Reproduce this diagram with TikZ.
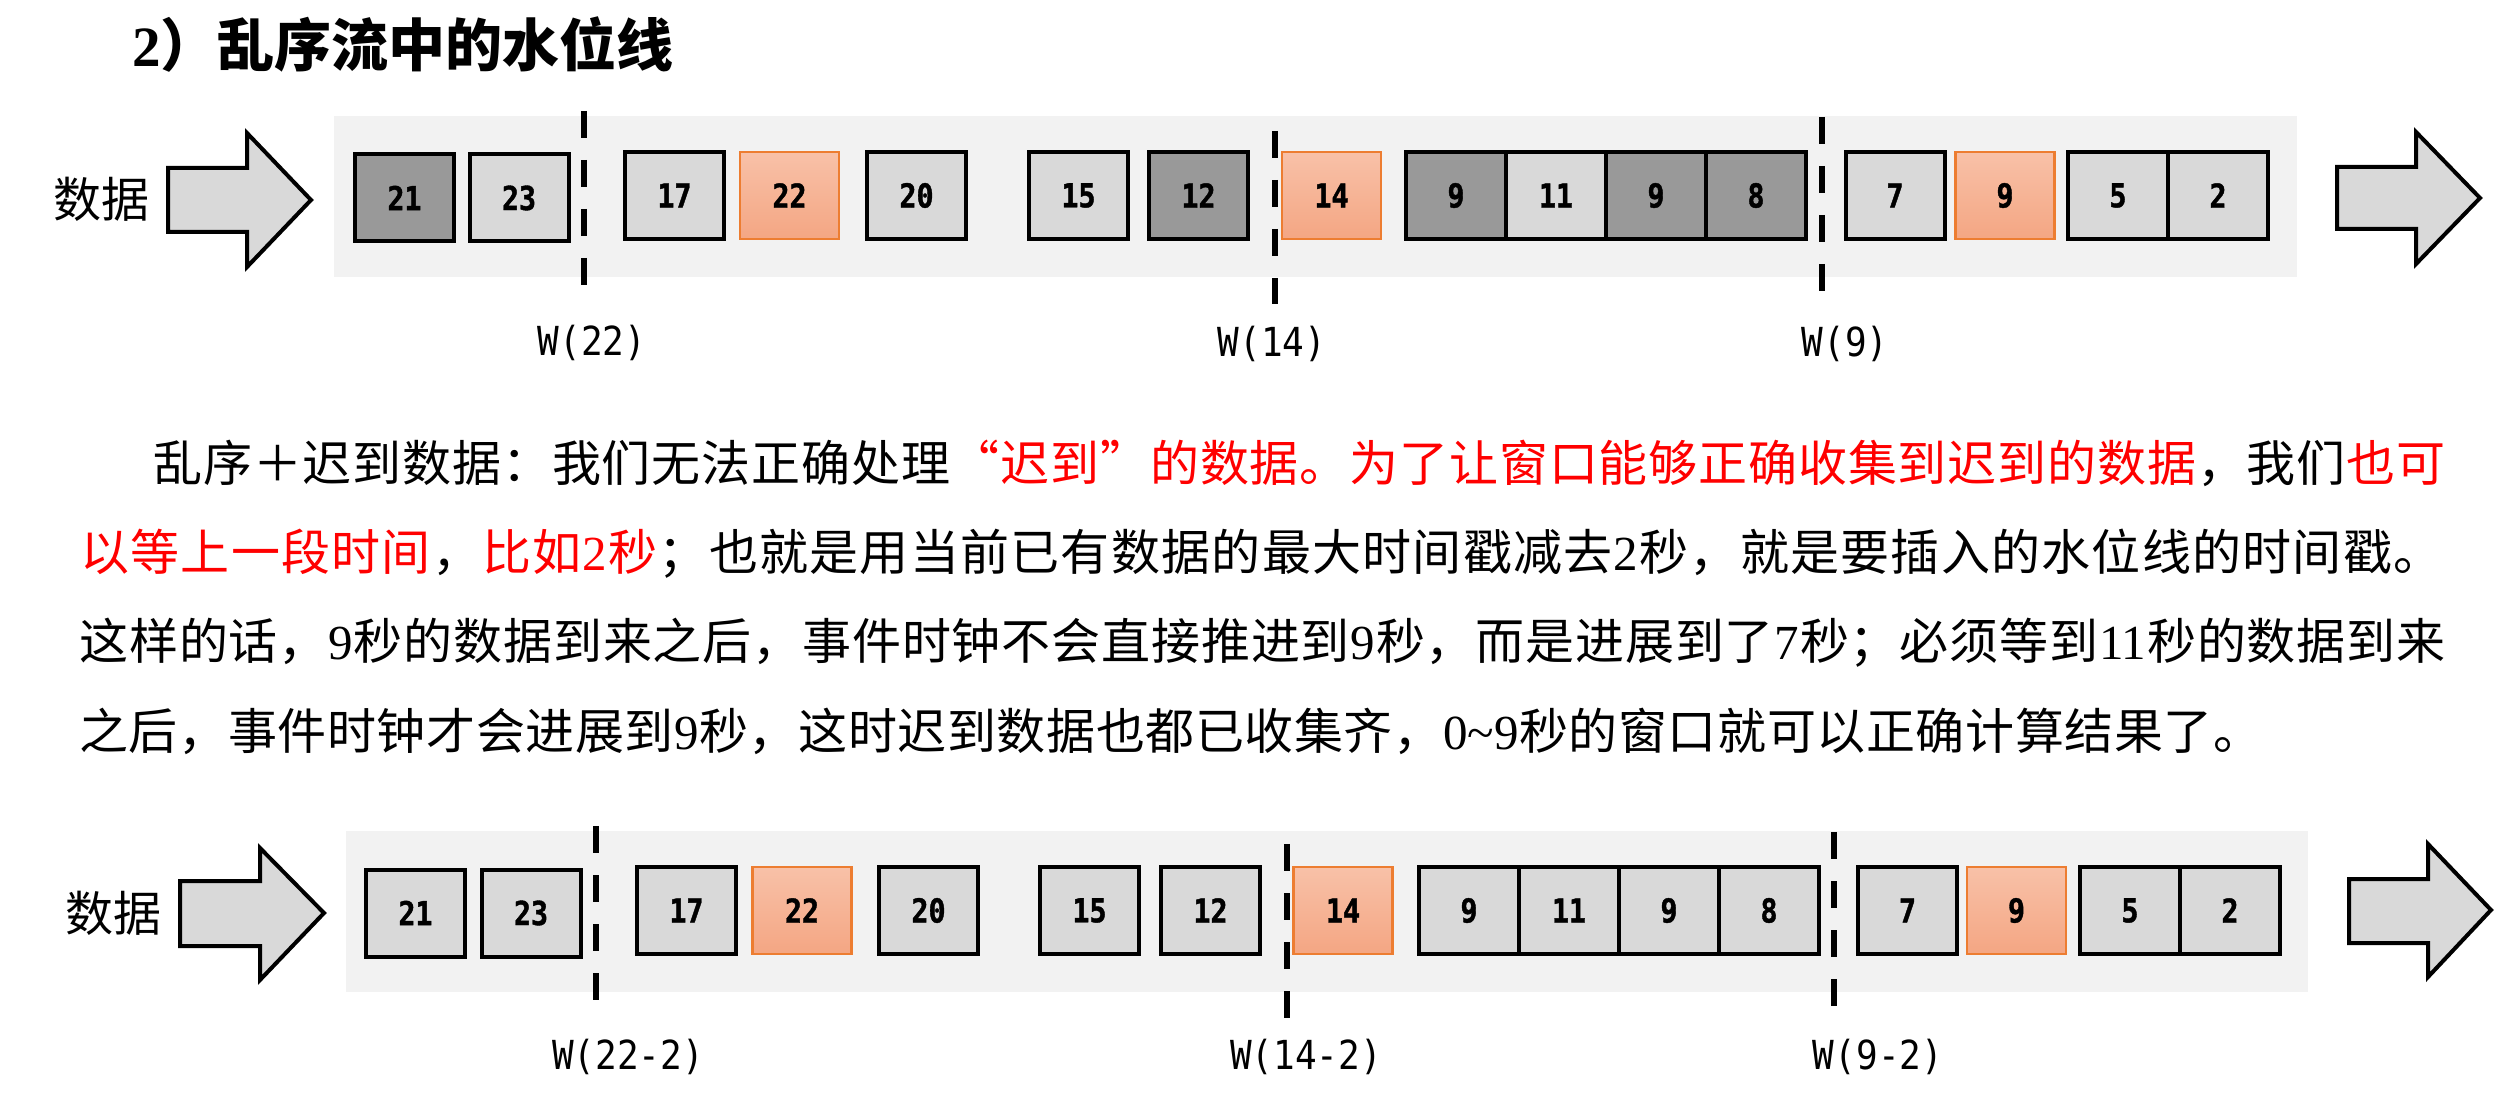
\documentclass[tikz,border=0pt]{standalone}
\usepackage{fontspec}
\setmainfont{Liberation Serif}
\newfontfamily\cjk{Noto Sans CJK SC}
\newfontfamily\tnr{Liberation Serif}
\newfontfamily\mono{DejaVu Sans Mono}[FakeStretch=0.9]
\newfontfamily\monob{DejaVu Sans Mono Bold}[FakeStretch=0.86, FakeBold=1.2]
\newlength\pxu
\setlength\pxu{0.5pt}
\definecolor{cellgray}{HTML}{D9D9D9}
\definecolor{darkcell}{HTML}{999999}
\definecolor{bandgray}{HTML}{F2F2F2}
\definecolor{orangetop}{HTML}{F8C1A8}
\definecolor{orangebot}{HTML}{F4A683}
\definecolor{orangeline}{HTML}{ED7D31}
\definecolor{redtext}{HTML}{FF0000}
% spread characters of a segment with \hfil between them
\def\jspread#1{\jspreadA#1\relax}
\def\jspreadA#1#2{#1\ifx\relax#2\else\hfil\expandafter\jspreadA\expandafter#2\fi}
\tikzset{
  band/.style={fill=bandgray, draw=none},
  cell/.style={draw=black, line width=2pt, minimum width=49.5pt, minimum height=43.5pt,
    inner sep=0pt, fill=cellgray, font=\monob\fontsize{16.5pt}{20pt}\selectfont},
  dcell/.style={cell, fill=darkcell},
  gw/.style={minimum width=50pt},
  ocell/.style={cell, draw=orangeline, line width=1.25pt, top color=orangetop, bottom color=orangebot},
  wm/.style={line width=3pt, dash pattern=on 13.5pt off 11pt},
  wlabel/.style={font=\mono\fontsize{20pt}{24pt}\selectfont, inner sep=0pt},
  blk/.style={draw=black, line width=2pt, fill=cellgray, line join=miter},
  datalabel/.style={font=\cjk\fontsize{24pt}{28pt}\selectfont, inner sep=0pt, anchor=base},
  para/.style={font=\cjk\fontsize{24.5pt}{29pt}\selectfont, inner sep=0pt, anchor=base west},
  titlestyle/.style={font=\cjk\bfseries\fontsize{28.5pt}{34pt}\selectfont, inner sep=0pt, anchor=base west}
}
\begin{document}
\begin{tikzpicture}[x=0.5pt, y=-0.5pt]
\useasboundingbox (0,0) rectangle (2513,1106);

% title
\node[titlestyle] (title) at (132,67) {{\tnr\bfseries 2}）乱序流中的水位线};

% ---------- top stream ----------
\fill[band] (334,116) rectangle (2297,277);
\node[datalabel] (data1) at (102,218) {数据};
\draw[blk] (168,168) -- (247,168) -- (247,133) -- (311,200) -- (247,267) -- (247,232) -- (168,232) -- cycle;
\draw[blk] (2337,167) -- (2416,167) -- (2416,132) -- (2480,198) -- (2416,264) -- (2416,229) -- (2337,229) -- cycle;

\node[dcell] (t21) at (404.5,198) {21};
\node[cell] (t23) at (519,198) {23};
\node[cell] (t17) at (674.5,195.5) {17};
\node[ocell] (t22) at (789.5,195.5) {22};
\node[cell] (t20) at (916.5,195.5) {20};
\node[cell] (t15) at (1078.5,195.5) {15};
\node[dcell] (t12) at (1198.5,195.5) {12};
\node[ocell] (t14) at (1331.5,195.5) {14};
\node[dcell,gw] (t9a) at (1456,195.5) {9};
\node[cell,gw] (t11) at (1556,195.5) {11};
\node[dcell,gw] (t9b) at (1656,195.5) {9};
\node[dcell,gw] (t8) at (1756,195.5) {8};
\node[cell] (t7) at (1895,195.5) {7};
\node[ocell] (t9c) at (2005,195.5) {9};
\node[cell,gw] (t5) at (2118,195.5) {5};
\node[cell,gw] (t2) at (2218,195.5) {2};

\coordinate (ta1) at (584,111);  \coordinate (tb1) at (584,285);
\coordinate (ta2) at (1275,131); \coordinate (tb2) at (1275,304);
\coordinate (ta3) at (1822,117); \coordinate (tb3) at (1822,291);
\draw[wm] (ta1) -- (tb1);
\draw[wm] (ta2) -- (tb2);
\draw[wm] (ta3) -- (tb3);
\node[wlabel] (tw1) at (592,343) {W(22)};
\node[wlabel] (tw2) at (1272,344) {W(14)};
\node[wlabel] (tw3) at (1845,344) {W(9)};

% ---------- paragraph ----------
\node[para] (line1) at (153,482) {\hbox to 2292\pxu{\jspread{乱序＋迟到数据：我们无法正确处理}\hfil{\color{redtext}\jspread{“迟到”的数据。为了让窗口能够正确收集到迟到的数据}}\hfil\jspread{，我们}\hfil{\color{redtext}\jspread{也可}}}};
\node[para] (line2) at (80,571) {\hbox to 2362\pxu{{\color{redtext}\jspread{以等上一段时间}}\hfil\jspread{，}\hfil{\color{redtext}\jspread{比如}\hfil{\tnr 2}\hfil\jspread{秒}}\hfil\jspread{；也就是用当前已有数据的最大时间戳减去}\hfil{\tnr 2}\hfil\jspread{秒，就是要插入的水位线的时间戳。}}};
\node[para] (line3) at (79,660) {\hbox to 2366\pxu{\jspread{这样的话，}\hfil{\tnr 9}\hfil\jspread{秒的数据到来之后，事件时钟不会直接推进到}\hfil{\tnr 9}\hfil\jspread{秒，而是进展到了}\hfil{\tnr 7}\hfil\jspread{秒；必须等到}\hfil{\tnr 11}\hfil\jspread{秒的数据到来}}};
\node[para] (line4) at (79,750) {\hbox to 2183\pxu{\jspread{之后，事件时钟才会进展到}\hfil{\tnr 9}\hfil\jspread{秒，这时迟到数据也都已收集齐，}\hfil{\tnr 0\textasciitilde 9}\hfil\jspread{秒的窗口就可以正确计算结果了。}}};

% ---------- bottom stream ----------
\fill[band] (346,831) rectangle (2308,992);
\node[datalabel] (data2) at (113,931) {数据};
\draw[blk] (180,881) -- (260,881) -- (260,848) -- (324,913) -- (260,980) -- (260,946) -- (180,946) -- cycle;
\draw[blk] (2349,879) -- (2428,879) -- (2428,844) -- (2491,910) -- (2428,977) -- (2428,943) -- (2349,943) -- cycle;

\node[cell] (b21) at (415.5,913) {21};
\node[cell] (b23) at (531,913) {23};
\node[cell] (b17) at (686.5,910.5) {17};
\node[ocell] (b22) at (802,910.5) {22};
\node[cell] (b20) at (928.5,910.5) {20};
\node[cell] (b15) at (1089.5,910.5) {15};
\node[cell] (b12) at (1210.5,910.5) {12};
\node[ocell] (b14) at (1343,910.5) {14};
\node[cell,gw] (b9a) at (1469,910.5) {9};
\node[cell,gw] (b11) at (1569,910.5) {11};
\node[cell,gw] (b9b) at (1669,910.5) {9};
\node[cell,gw] (b8) at (1769,910.5) {8};
\node[cell] (b7) at (1907.5,910.5) {7};
\node[ocell] (b9c) at (2016.5,910.5) {9};
\node[cell,gw] (b5) at (2130,910.5) {5};
\node[cell,gw] (b2) at (2230,910.5) {2};

\coordinate (ba1) at (596,826);  \coordinate (bb1) at (596,1000);
\coordinate (ba2) at (1287,844); \coordinate (bb2) at (1287,1019);
\coordinate (ba3) at (1834,832); \coordinate (bb3) at (1834,1006);
\draw[wm] (ba1) -- (bb1);
\draw[wm] (ba2) -- (bb2);
\draw[wm] (ba3) -- (bb3);
\node[wlabel] (bw1) at (628,1057) {W(22-2)};
\node[wlabel] (bw2) at (1306,1057) {W(14-2)};
\node[wlabel] (bw3) at (1878,1057) {W(9-2)};
\end{tikzpicture}
\end{document}
